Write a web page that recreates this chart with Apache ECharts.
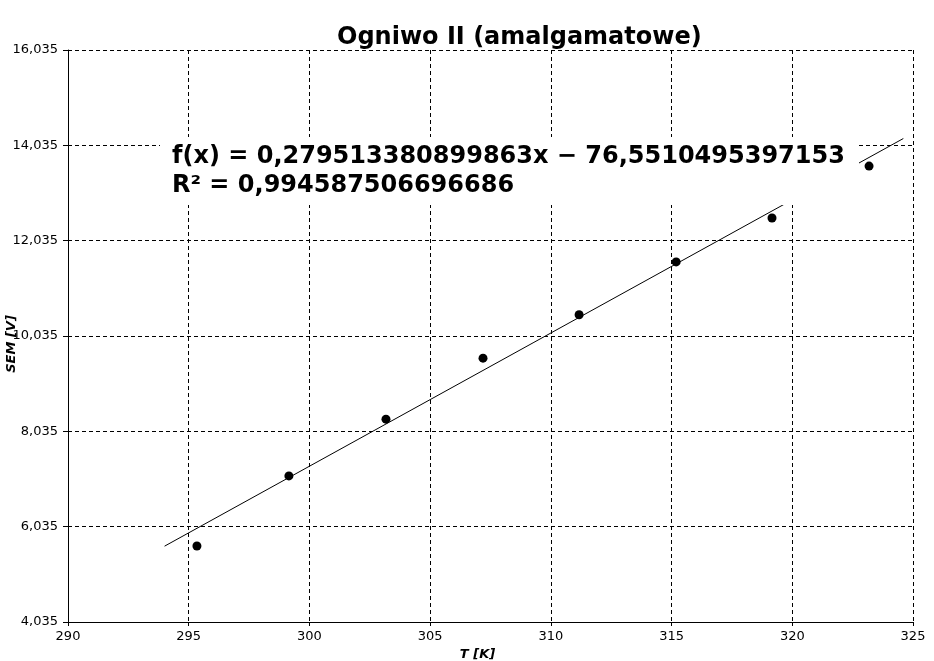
<!DOCTYPE html>
<html><head><meta charset="utf-8">
<script src="https://cdn.jsdelivr.net/npm/echarts@6/dist/echarts.min.js"></script>
<style>html,body{margin:0;padding:0;background:#fff}#c{width:934px;height:661px}</style>
</head><body><div id="c"></div>
<script>
const temps = [295.34, 299.15, 303.17, 307.19, 311.17, 315.19, 319.16, 323.18];
const sem = [5.63, 7.10, 8.29, 9.57, 10.48, 11.59, 12.51, 13.60];
const trendX = [294.0, 324.6];
const trendY = [5.626, 14.178];
const xTicks = [290, 295, 300, 305, 310, 315, 320, 325];
const yTicks = [4.035, 6.035, 8.035, 10.035, 12.035, 14.035, 16.035];
const titleText = 'Ogniwo II (amalgamatowe)';
const xName = 'T [K]';
const yName = 'SEM [V]';
const eqLines = ['f(x) = 0,279513380899863x \u2212 76,5510495397153', 'R\u00b2 = 0,994587506696686'];

const font = 'DejaVu Sans';
const chart = echarts.init(document.getElementById('c'), null, {renderer: 'canvas'});
const fmt = v => String(v).replace('.', ',');
chart.setOption({
  animation: false,
  backgroundColor: '#fff',
  grid: {left: 68, right: 21, top: 50, bottom: 39, containLabel: false, outerBoundsMode: 'none'},
  xAxis: {
    type: 'value', min: xTicks[0], max: xTicks[xTicks.length - 1], interval: 5,
    name: xName, nameLocation: 'middle', nameGap: 22,
    nameTextStyle: {fontFamily: font, fontSize: 13, fontWeight: 'bold', fontStyle: 'italic', color: '#000', padding: [0, 26, 0, 0]},
    axisLine: {onZero: false, lineStyle: {color: '#000', width: 1}},
    axisTick: {show: true, inside: false, length: 4, lineStyle: {color: '#000'}, customValues: xTicks},
    axisLabel: {fontFamily: font, fontSize: 13, color: '#000', margin: 8, customValues: xTicks},
    splitLine: {show: true, lineStyle: {color: '#000', type: [4, 3], width: 1}}
  },
  yAxis: {
    type: 'value', min: yTicks[0], max: yTicks[yTicks.length - 1],
    axisLine: {show: true, onZero: false, lineStyle: {color: '#000', width: 1}},
    axisTick: {show: true, inside: false, length: 5, lineStyle: {color: '#000'}, customValues: yTicks},
    axisLabel: {fontFamily: font, fontSize: 13, color: '#000', margin: 10, customValues: yTicks, formatter: v => fmt(v.toFixed(3))},
    splitLine: {show: true, lineStyle: {color: '#000', type: [4, 3], width: 1}}
  },
  series: [
    {type: 'line', data: trendX.map((x, i) => [x, trendY[i]]), symbol: 'none', lineStyle: {color: '#000', width: 1}, z: 2, silent: true},
    {type: 'scatter', data: temps.map((t, i) => [t, sem[i]]), symbol: 'circle', symbolSize: 9, itemStyle: {color: '#000', opacity: 1}, z: 3}
  ],
  graphic: [
    {type: 'text', left: 337, top: 26, z: 10, style: {text: titleText, font: 'bold 24px "DejaVu Sans"', fill: '#000'}},
    {type: 'text', x: 12, y: 344, rotation: Math.PI / 2, z: 10, style: {text: yName, font: 'italic bold 13px "DejaVu Sans"', fill: '#000', align: 'center', verticalAlign: 'middle'}},
    {type: 'rect', left: 160, top: 137, z: 10, shape: {width: 699, height: 68}, style: {fill: '#fff'}},
    {type: 'text', left: 172, top: 142, z: 11, style: {text: eqLines.join('\n'), font: 'bold 24px "DejaVu Sans"', lineHeight: 29, fill: '#000'}}
  ]
});
</script></body></html>
